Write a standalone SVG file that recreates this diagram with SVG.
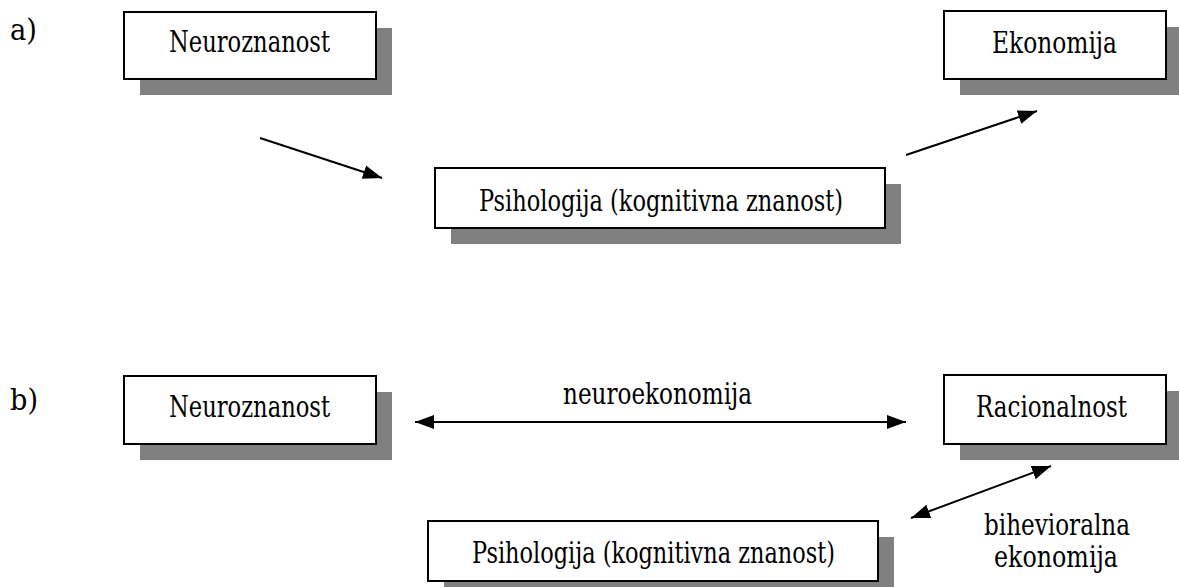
<svg xmlns="http://www.w3.org/2000/svg" width="1179" height="587" viewBox="0 0 1179 587">
<style>
.box{fill:#fff;stroke:#000;stroke-width:2}
.sh{fill:#808080}
text{font-family:"DejaVu Serif Condensed","DejaVu Serif","Liberation Serif",serif;font-stretch:condensed;font-size:29px;fill:#000}
.ln{stroke:#000;stroke-width:2;fill:none}
</style>
<defs>
<marker id="ah" markerUnits="userSpaceOnUse" markerWidth="22" markerHeight="16" refX="19" refY="8" orient="auto-start-reverse">
<path d="M0,1 L19,8 L0,15 Z" fill="#000"/>
</marker>
</defs>
<rect width="1179" height="587" fill="#fff"/>
<text x="10" y="40" textLength="27" lengthAdjust="spacingAndGlyphs">a)</text>
<text x="10" y="410" textLength="28" lengthAdjust="spacingAndGlyphs">b)</text>
<g id="a-neuro">
<rect class="sh" x="140" y="28" width="252" height="67"/>
<rect class="box" x="124" y="12" width="252" height="67"/>
<text x="169" y="52" textLength="161" lengthAdjust="spacingAndGlyphs">Neuroznanost</text>
</g>
<g id="a-eko">
<rect class="sh" x="960" y="27" width="222" height="68"/>
<rect class="box" x="944" y="11" width="222" height="68"/>
<text x="992" y="53" textLength="125" lengthAdjust="spacingAndGlyphs">Ekonomija</text>
</g>
<g id="a-psi">
<rect class="sh" x="451" y="184" width="450" height="60"/>
<rect class="box" x="435" y="168" width="450" height="60"/>
<text x="479" y="211" textLength="364" lengthAdjust="spacingAndGlyphs">Psihologija (kognitivna znanost)</text>
</g>
<g id="b-neuro">
<rect class="sh" x="140" y="392" width="252" height="68"/>
<rect class="box" x="124" y="376" width="252" height="68"/>
<text x="169" y="417" textLength="161" lengthAdjust="spacingAndGlyphs">Neuroznanost</text>
</g>
<g id="b-rac">
<rect class="sh" x="960" y="391" width="222" height="69"/>
<rect class="box" x="944" y="375" width="222" height="69"/>
<text x="976" y="417" textLength="151" lengthAdjust="spacingAndGlyphs">Racionalnost</text>
</g>
<g id="b-psi">
<rect class="sh" x="444" y="537" width="450" height="60"/>
<rect class="box" x="428" y="521" width="450" height="60"/>
<text x="472" y="563" textLength="363" lengthAdjust="spacingAndGlyphs">Psihologija (kognitivna znanost)</text>
</g>
<g id="connectors">
<line class="ln" x1="260" y1="138" x2="382" y2="178" marker-end="url(#ah)"/>
<line class="ln" x1="906" y1="155" x2="1037" y2="111" marker-end="url(#ah)"/>
<line class="ln" x1="415" y1="422" x2="906" y2="422" marker-start="url(#ah)" marker-end="url(#ah)"/>
<line class="ln" x1="911" y1="518" x2="1051" y2="466" marker-start="url(#ah)" marker-end="url(#ah)"/>
</g>
<text x="563" y="404" textLength="189" lengthAdjust="spacingAndGlyphs">neuroekonomija</text>
<text x="984" y="535" textLength="146" lengthAdjust="spacingAndGlyphs">bihevioralna</text>
<text x="994" y="567" textLength="124" lengthAdjust="spacingAndGlyphs">ekonomija</text>
</svg>
